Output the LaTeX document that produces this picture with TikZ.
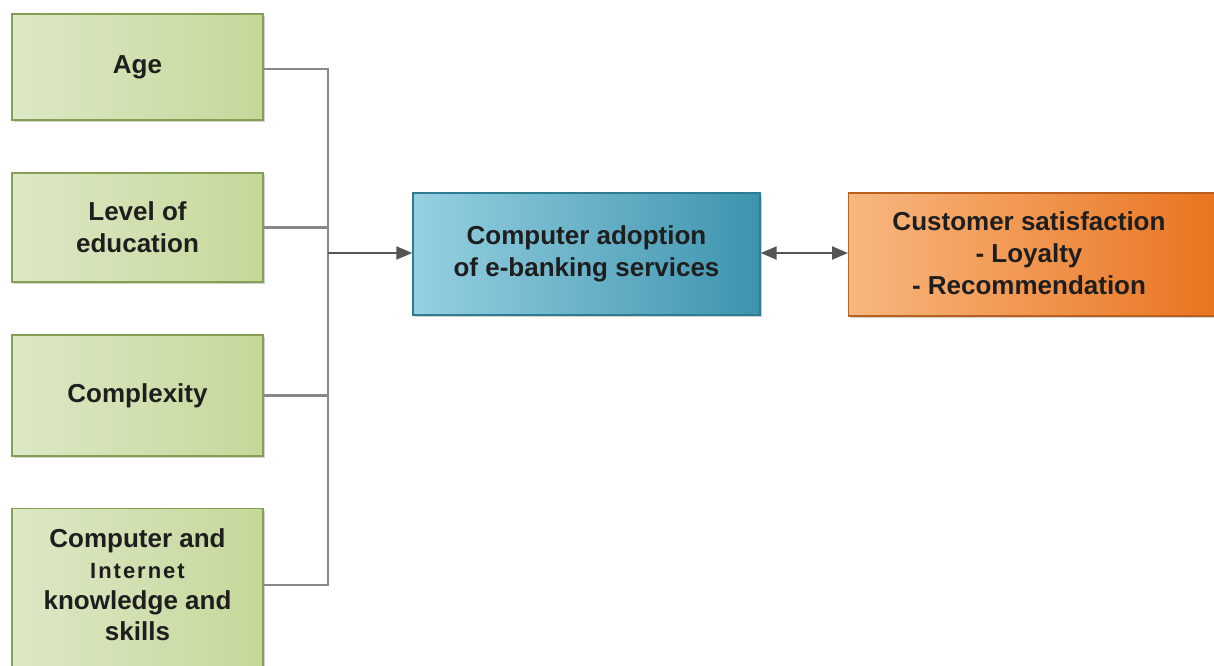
\documentclass[tikz,border=0pt]{standalone}
\usepackage{fontspec}
\setmainfont{Liberation Sans}
\usetikzlibrary{shadows,arrows.meta}
\definecolor{gL}{HTML}{DDE8C6}
\definecolor{gR}{HTML}{C5D89A}
\definecolor{gB}{HTML}{85A052}
\definecolor{bL}{HTML}{96D0E1}
\definecolor{bR}{HTML}{3D94AE}
\definecolor{bB}{HTML}{2E7C92}
\definecolor{oL}{HTML}{F8B77F}
\definecolor{oR}{HTML}{E8721C}
\definecolor{oB}{HTML}{B9601E}
\definecolor{lineC}{HTML}{888888}
\definecolor{arrC}{HTML}{555555}
\definecolor{txtC}{HTML}{1E1E1E}
\tikzset{
  boxbase/.style={rectangle, draw, line width=1.4pt,
    drop shadow={shadow xshift=2pt, shadow yshift=-2pt, opacity=0.3, fill=black!60}},
  gbox/.style={boxbase, draw=gB, left color=gL, right color=gR, minimum width=251pt},
  bbox/.style={boxbase, draw=bB, left color=bL, right color=bR},
  obox/.style={boxbase, draw=oB, left color=oL, right color=oR},
  txt/.style={align=center, text=txtC, font=\fontsize{26}{32}\selectfont\bfseries, inner sep=0pt},
  conn/.style={draw=lineC, line width=2.2pt},
  arr/.style={draw=arrC, line width=2.2pt, -{Triangle[length=16pt,width=13pt]}},
  darr/.style={draw=arrC, line width=2.2pt, {Triangle[length=16pt,width=13pt]}-{Triangle[length=16pt,width=13pt]}}
}
\begin{document}
\begin{tikzpicture}[x=1pt,y=-1pt]
\useasboundingbox (0,0) rectangle (1214,665);
\clip (0,0) rectangle (1214,665);
% left boxes
\node[gbox, minimum height=106pt, txt] (age) at (137.5,67) {Age};
\node[gbox, minimum height=109pt, txt] (edu) at (137.5,227.5) {Level of\\education};
\node[gbox, minimum height=121pt, txt] (cplx) at (137.5,395.5) {Complexity};
\node[gbox, minimum height=180pt, anchor=north] (comp) at (137.5,508) {};
\node[txt, font=\fontsize{26}{31}\selectfont\bfseries] (compt) at (137.5,585) {Computer and\\{\fontsize{22}{31}\selectfont\addfontfeatures{LetterSpace=9}Internet}\\knowledge and\\skills};
% middle
\node[bbox, minimum width=347pt, minimum height=122pt] (adopt) at (586.5,254) {};
\node[txt] (adoptt) at (586.5,254) {Computer adoption\\of e-banking services};
% right
\node[obox, minimum width=380pt, minimum height=123pt, anchor=west] (cust) at (848,254.5) {};
\node[txt] (custt) at (1029,253) {Customer satisfaction\\- Loyalty\\- Recommendation};
% connectors
\coordinate (j) at (328,253);
\draw[conn] (age.east |- 0,69) -- (j |- 0,69) -- (j |- compt) -- (compt -| comp.east);
\draw[conn] (edu.east) -- (edu.east -| j);
\draw[conn] (cplx.east) -- (cplx.east -| j);
\draw[arr] (j) -- (adopt.west |- j);
\draw[darr] (adopt.east |- j) -- (cust.west |- j);
\end{tikzpicture}
\end{document}
